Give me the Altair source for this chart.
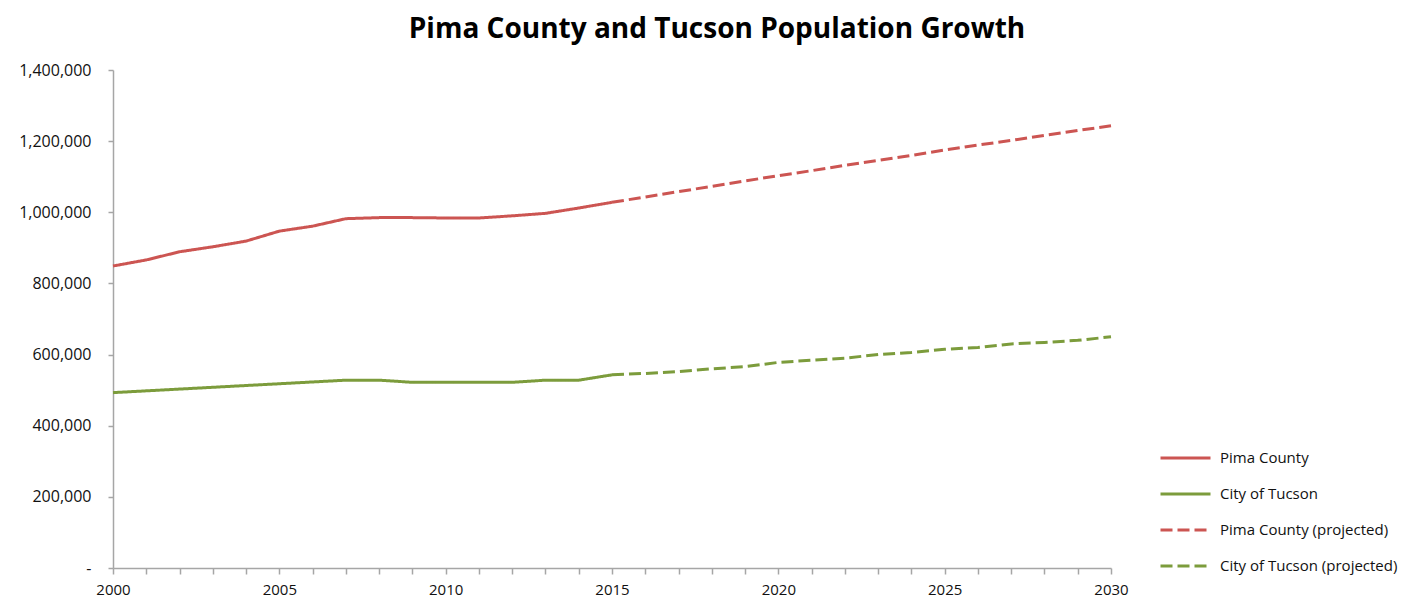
import altair as alt
import pandas as pd

# ---- data ----
years_hist = list(range(2000, 2016))
pima_hist = [849000, 866000, 889000, 903000, 919000, 947000, 961000, 982000,
             985000, 985000, 984000, 984000, 990000, 997000, 1012000, 1028000]
tucson_hist = [493000, 498000, 503000, 508000, 513000, 518000, 523000, 528000,
               528000, 522000, 522000, 522000, 522000, 528000, 528000, 543000]

years_proj = list(range(2015, 2031))
pima_proj = [1028000, 1043000, 1058000, 1073000, 1088000, 1103000, 1117000, 1132000,
             1146000, 1160000, 1175000, 1189000, 1202000, 1216000, 1230000, 1243000]
tucson_proj = [543000, 547000, 552000, 560000, 566000, 578000, 584000, 590000,
               600000, 606000, 615000, 620000, 630000, 634000, 640000, 650000]

series_names = ["Pima County", "City of Tucson",
                "Pima County (projected)", "City of Tucson (projected)"]
series_colors = ["#CC5552", "#7C9C3C", "#CC5552", "#7C9C3C"]
series_dashes = [[1, 0], [1, 0], [12, 5], [12, 5]]

x_ticks = list(range(2000, 2031))
y_ticks = list(range(0, 1400001, 200000))

rows = []
for name, yrs, vals in [
    (series_names[0], years_hist, pima_hist),
    (series_names[1], years_hist, tucson_hist),
    (series_names[2], years_proj, pima_proj),
    (series_names[3], years_proj, tucson_proj),
]:
    for y, v in zip(yrs, vals):
        rows.append({"year": y, "population": v, "series": name})
df = pd.DataFrame(rows)

FONT = "Open Sans"
NBSP = "\u00a0"

legend_opts = dict(
    title=None,
    orient="none",
    legendX=1046,
    legendY=374,
    symbolType="M-1,0H3",
    symbolSize=625,
    symbolStrokeWidth=3,
    labelOffset=33,
    labelFontSize=15,
    labelLimit=0,
    rowPadding=14,
)

chart = (
    alt.Chart(df)
    .mark_line(strokeWidth=3)
    .encode(
        x=alt.X(
            "year:Q",
            scale=alt.Scale(domain=[2000, 2030], nice=False, zero=False),
            axis=alt.Axis(
                title=None,
                values=x_ticks,
                labelExpr="datum.value % 5 == 0 ? '' + datum.value : ''",
                labelOverlap=False,
                labelFlush=False,
                grid=False,
                tickSize=6,
                labelPadding=8,
                labelFontSize=15,
            ),
        ),
        y=alt.Y(
            "population:Q",
            scale=alt.Scale(domain=[0, 1400000], nice=False),
            axis=alt.Axis(
                title=None,
                values=y_ticks,
                labelExpr="datum.value == 0 ? '-" + NBSP * 6 + "' : format(datum.value, ',')",
                labelFlush=False,
                grid=False,
                tickSize=5,
                labelPadding=17,
                labelFontSize=16,
            ),
        ),
        color=alt.Color(
            "series:N",
            scale=alt.Scale(domain=series_names, range=series_colors),
            legend=alt.Legend(**legend_opts),
        ),
        strokeDash=alt.StrokeDash(
            "series:N",
            scale=alt.Scale(domain=series_names, range=series_dashes),
            legend=alt.Legend(**legend_opts),
        ),
        order=alt.Order("year:Q"),
    )
    .properties(
        width=998,
        height=498,
        title=alt.TitleParams(
            "Pima County and Tucson Population Growth",
            fontSize=28,
            fontWeight="bold",
            font=FONT,
            color="#000000",
            anchor="middle",
            dx=105,
            offset=18,
        ),
        padding={"left": 10, "top": 8, "right": 5, "bottom": 5},
    )
    .configure_view(stroke=None)
    .configure_axis(
        domainColor="#A6A6A6",
        domainWidth=1.5,
        tickColor="#A6A6A6",
        tickWidth=1.5,
        labelFont=FONT,
        labelColor="#111111",
    )
    .configure_legend(labelFont=FONT, labelColor="#111111")
)

chart.save("out.html", embed_options={"renderer": "svg", "actions": False})
